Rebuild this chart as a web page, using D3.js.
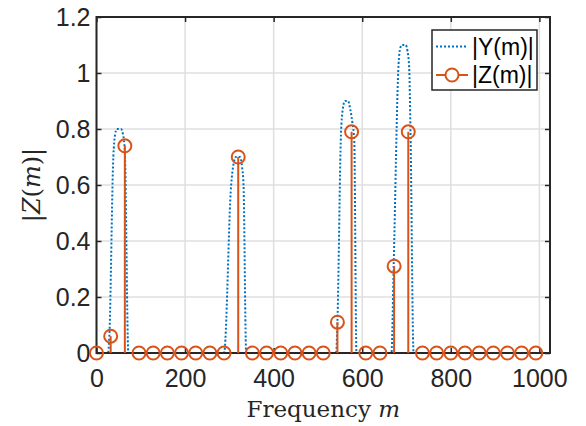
<!DOCTYPE html>
<html>
<head>
<meta charset="utf-8">
<script src="https://cdn.jsdelivr.net/npm/d3@7"></script>
<style>
  html, body { margin: 0; padding: 0; background: #ffffff; }
</style>
</head>
<body>
<div id="chart"></div>
<script>
// spectrum |Y(m)| (breakpoints)
const yFreq = [0, 26, 29, 38, 42, 46, 55, 60, 64, 72,
    288, 304, 310, 315, 324, 329, 332, 338,
    541, 544, 552, 556, 561, 568, 573, 578, 582, 587,
    666, 671, 682, 686, 690, 698, 702, 706, 709, 716, 1024];
const yMag = [0, 0, 0.06, 0.70, 0.78, 0.80, 0.80, 0.78, 0.72, 0,
    0, 0.60, 0.68, 0.70, 0.70, 0.66, 0.60, 0,
    0, 0.11, 0.78, 0.87, 0.90, 0.90, 0.87, 0.82, 0.76, 0,
    0, 0.31, 1.03, 1.09, 1.10, 1.10, 1.08, 1.02, 0.79, 0, 0];

// sampled |Z(m)| stems
const zFreq = [0, 32, 64, 96, 128, 160, 192, 224, 256, 288, 320, 352, 384, 416, 448, 480,
    512, 544, 576, 608, 640, 672, 704, 736, 768, 800, 832, 864, 896, 928, 960, 992];
const zMag = [0, 0.06, 0.74, 0, 0, 0, 0, 0, 0, 0, 0.70, 0, 0, 0, 0, 0,
    0, 0.11, 0.79, 0, 0, 0.31, 0.79, 0, 0, 0, 0, 0, 0, 0, 0, 0];

const xTicks = [0, 200, 400, 600, 800, 1000];
const yTicks = [0, 0.2, 0.4, 0.6, 0.8, 1, 1.2];
const legendLabels = ["|Y(m)|", "|Z(m)|"];

const FONT = "Liberation Sans, Arial, sans-serif";
const SERIF = "DejaVu Serif, serif";
const COLOR_Y = "#0072BD";
const COLOR_Z = "#D95319";
const COLOR_AXIS = "#262626";
const COLOR_GRID = "#dfdfdf";

const W = 586, H = 426;
const margin = { top: 17, right: 36, bottom: 73, left: 96.5 };
const width = W - margin.left - margin.right;
const height = H - margin.top - margin.bottom;

const svg = d3.select("#chart").append("svg")
    .attr("width", W).attr("height", H)
    .style("display", "block");

const g = svg.append("g")
    .attr("transform", `translate(${margin.left},${margin.top})`);

const x = d3.scaleLinear().domain([0, 1024]).range([0, width]);
const y = d3.scaleLinear().domain([0, 1.2]).range([height, 0]);

// grid
g.append("g").selectAll("line")
    .data(xTicks).enter().append("line")
    .attr("x1", d => x(d)).attr("x2", d => x(d))
    .attr("y1", 0).attr("y2", height)
    .attr("stroke", COLOR_GRID).attr("stroke-width", 1.5);
g.append("g").selectAll("line")
    .data(yTicks).enter().append("line")
    .attr("x1", 0).attr("x2", width)
    .attr("y1", d => y(d)).attr("y2", d => y(d))
    .attr("stroke", COLOR_GRID).attr("stroke-width", 1.5);

// |Y(m)| dotted curve
const line = d3.line()
    .x((d, i) => x(yFreq[i]))
    .y(d => y(d))
    .curve(d3.curveMonotoneX);
g.append("path")
    .datum(yMag)
    .attr("d", line)
    .attr("fill", "none")
    .attr("stroke", COLOR_Y)
    .attr("stroke-width", 2)
    .attr("stroke-dasharray", "2,2");

// axes (box with inward ticks)
function styleAxis(sel) {
    sel.attr("font-family", FONT).attr("font-size", 25);
    sel.select(".domain").remove();
    sel.selectAll(".tick line").attr("stroke", COLOR_AXIS).attr("stroke-width", 1.5);
    sel.selectAll(".tick text").attr("fill", COLOR_AXIS);
}
const fmtY = d => d === 0 ? "0" : (d === 1 ? "1" : d3.format(".1f")(d));

g.append("g").attr("transform", `translate(0,${height})`)
    .call(d3.axisBottom(x).tickValues(xTicks).tickSize(-5).tickPadding(16).tickFormat(d3.format("d")))
    .call(styleAxis);
g.append("g")
    .call(d3.axisTop(x).tickValues(xTicks).tickSize(-5).tickFormat(""))
    .call(styleAxis);
g.append("g")
    .call(d3.axisLeft(y).tickValues(yTicks).tickSize(-5).tickPadding(6).tickFormat(fmtY))
    .call(styleAxis);
g.append("g").attr("transform", `translate(${width},0)`)
    .call(d3.axisRight(y).tickValues(yTicks).tickSize(-5).tickFormat(""))
    .call(styleAxis);

g.append("rect")
    .attr("x", 0).attr("y", 0).attr("width", width).attr("height", height)
    .attr("fill", "none").attr("stroke", COLOR_AXIS).attr("stroke-width", 2);

// |Z(m)| stems
const stems = g.append("g");
stems.selectAll("line")
    .data(zMag).enter().append("line")
    .attr("x1", (d, i) => x(zFreq[i])).attr("x2", (d, i) => x(zFreq[i]))
    .attr("y1", y(0)).attr("y2", d => y(d))
    .attr("stroke", COLOR_Z).attr("stroke-width", 2);
stems.selectAll("circle")
    .data(zMag).enter().append("circle")
    .attr("cx", (d, i) => x(zFreq[i]))
    .attr("cy", d => y(d))
    .attr("r", 6.5)
    .attr("fill", "none")
    .attr("stroke", COLOR_Z).attr("stroke-width", 2);

// legend
const lg = svg.append("g").attr("transform", "translate(432,30)");
lg.append("rect")
    .attr("width", 105).attr("height", 60)
    .attr("fill", "#ffffff").attr("stroke", COLOR_AXIS).attr("stroke-width", 1.5);
lg.append("line")
    .attr("x1", 4).attr("x2", 36).attr("y1", 16.5).attr("y2", 16.5)
    .attr("stroke", COLOR_Y).attr("stroke-width", 2).attr("stroke-dasharray", "2,2");
lg.append("line")
    .attr("x1", 4).attr("x2", 36).attr("y1", 45).attr("y2", 45)
    .attr("stroke", COLOR_Z).attr("stroke-width", 2);
lg.append("circle")
    .attr("cx", 20).attr("cy", 45).attr("r", 6.5)
    .attr("fill", "#ffffff").attr("stroke", COLOR_Z).attr("stroke-width", 2);
lg.selectAll("text.lab")
    .data(legendLabels).enter().append("text")
    .attr("class", "lab")
    .attr("x", 40)
    .attr("y", (d, i) => 16.5 + i * 28.5)
    .attr("dy", "0.35em")
    .attr("font-family", FONT).attr("font-size", 23)
    .attr("fill", "#000000")
    .text(d => d);

// axis labels
const xl = svg.append("text")
    .attr("x", margin.left + width / 2).attr("y", 417)
    .attr("text-anchor", "middle")
    .attr("font-family", SERIF).attr("font-size", 23)
    .attr("fill", COLOR_AXIS);
xl.append("tspan").text("Frequency ");
xl.append("tspan").attr("font-style", "italic").text("m");

const yl = svg.append("text")
    .attr("transform", `translate(40,${margin.top + height / 2}) rotate(-90)`)
    .attr("text-anchor", "middle")
    .attr("font-family", SERIF).attr("font-size", 24)
    .attr("fill", COLOR_AXIS);
yl.append("tspan").text("|");
yl.append("tspan").attr("font-style", "italic").text("Z");
yl.append("tspan").text("(");
yl.append("tspan").attr("font-style", "italic").text("m");
yl.append("tspan").text(")|");
</script>
</body>
</html>
